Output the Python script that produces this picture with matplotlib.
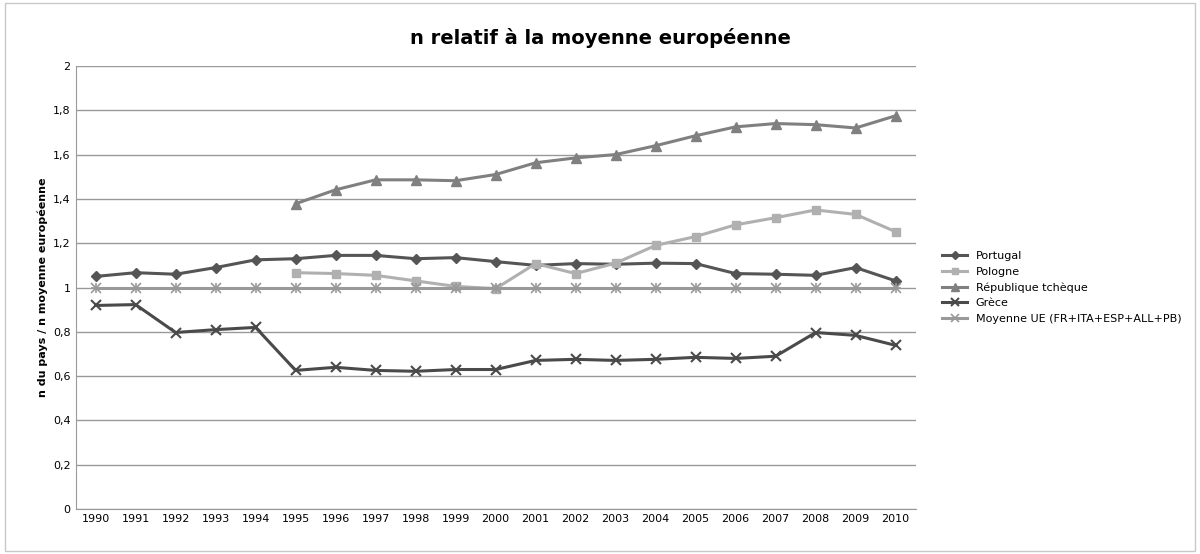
import numpy as np
import matplotlib.pyplot as plt
from matplotlib.patches import Rectangle

years = list(range(1990, 2011))
portugal = [1.05, 1.067, 1.06, 1.09, 1.125, 1.13, 1.145, 1.145, 1.13, 1.135, 1.117,
            1.10, 1.108, 1.105, 1.11, 1.108, 1.063, 1.06, 1.055, 1.09, 1.03]
pologne_years = list(range(1995, 2011))
pologne = [1.067, 1.063, 1.055, 1.03, 1.005, 0.995, 1.108, 1.063, 1.11, 1.19, 1.23,
           1.283, 1.315, 1.35, 1.33, 1.252]
tcheque = [1.378, 1.441, 1.486, 1.486, 1.482, 1.51, 1.563, 1.585, 1.60, 1.64, 1.685,
           1.725, 1.74, 1.735, 1.72, 1.775]
grece = [0.919, 0.923, 0.797, 0.81, 0.82, 0.626, 0.64, 0.626, 0.622, 0.63, 0.63,
         0.671, 0.676, 0.671, 0.676, 0.685, 0.68, 0.69, 0.797, 0.784, 0.739]
moyenne = [1.0] * len(years)
ytick_labels = ['0', '0,2', '0,4', '0,6', '0,8', '1', '1,2', '1,4', '1,6', '1,8', '2']

fig = plt.figure(figsize=(12, 5.54), dpi=100)
fig.patches.append(Rectangle((0.004, 0.006), 0.992, 0.988, transform=fig.transFigure,
                             fill=False, edgecolor='#c8c8c8', lw=1))
ax = fig.add_axes([0.063, 0.081, 0.70, 0.800])
x = np.arange(len(years))
xp = np.arange(years.index(pologne_years[0]), len(years))

ax.plot(x, portugal, color='#555555', marker='D', ms=5, lw=2.2, label='Portugal')
ax.plot(xp, pologne, color='#b0b0b0', marker='s', ms=6, lw=2.2, label='Pologne')
ax.plot(xp, tcheque, color='#808080', marker='^', ms=7, lw=2.2, label='République tchèque')
ax.plot(x, grece, color='#4a4a4a', marker='x', ms=7, mew=1.5, lw=2.2, label='Grèce')
ax.plot(x, moyenne, color='#999999', marker='x', ms=7, mew=1.2, lw=2.2,
        label='Moyenne UE (FR+ITA+ESP+ALL+PB)')
ax.plot(x, moyenne, color='#999999', marker='+', ms=7, mew=1.2, lw=0)

ax.set_xlim(-0.5, len(years) - 0.5)
ax.set_ylim(0, 2)
ax.set_xticks(x)
ax.set_xticklabels([str(y) for y in years], fontsize=8)
ax.set_yticks(np.linspace(0, 2, 11))
ax.set_yticklabels(ytick_labels, fontsize=8)
ax.grid(axis='y', color='#999999', lw=1)
ax.set_axisbelow(True)
ax.tick_params(length=0)
for s in ['top', 'right']:
    ax.spines[s].set_visible(False)
ax.spines['left'].set_color('#999999')
ax.spines['bottom'].set_color('#999999')
ax.set_ylabel('n du pays / n moyenne européenne', fontsize=8, fontweight='bold')
fig.suptitle('n relatif à la moyenne européenne', fontsize=14, fontweight='bold', x=0.5, y=0.95)
ax.legend(loc='center left', bbox_to_anchor=(1.02, 0.5), frameon=False, fontsize=8,
          handlelength=2.2, markerscale=0.8)

fig.savefig('out.png', dpi=100, facecolor='white')
